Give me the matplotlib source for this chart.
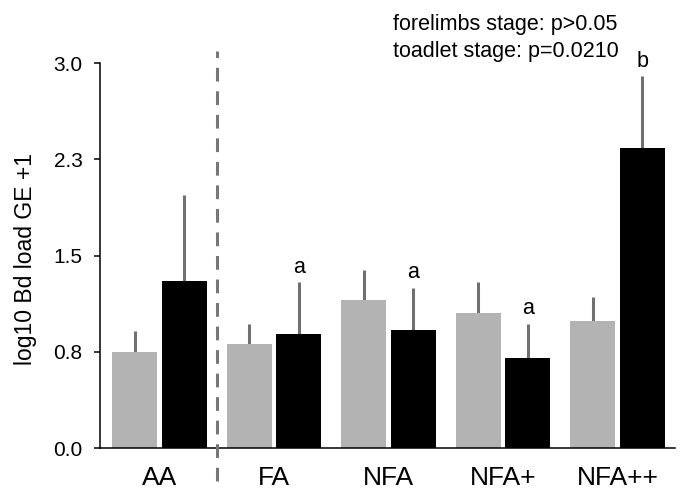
import matplotlib
matplotlib.use('Agg')
import matplotlib.pyplot as plt
import numpy as np

plt.rcParams['font.family'] = ['Liberation Sans', 'DejaVu Sans']

# grupos y valores (log10 Bd load GE +1)
grupos = ['AA', 'FA', 'NFA', 'NFA+', 'NFA++']
forelimbs = [0.75, 0.81, 1.15, 1.05, 0.99]
forelimbs_err = [0.16, 0.16, 0.24, 0.24, 0.19]
toadlet = [1.30, 0.89, 0.92, 0.70, 2.34]
toadlet_err = [0.67, 0.40, 0.33, 0.27, 0.56]
letras = ['', 'a', 'a', 'a', 'b']

yticks = [0.0, 0.75, 1.5, 2.25, 3.0]
yticklabels = ['0.0', '0.8', '1.5', '2.3', '3.0']

gris = '#b3b3b3'
gris_err = '#707070'

fig = plt.figure(figsize=(6.81, 4.90), dpi=100)
ax = fig.add_axes([0.1468, 0.0857, 0.844, 0.7857])

x = np.arange(len(grupos))
w = 0.393
d = 0.218

ax.bar(x - d, forelimbs, w, color=gris, zorder=2)
ax.bar(x + d, toadlet, w, color='black', zorder=2)

# barras de error solo hacia arriba
ax.errorbar(x - d, forelimbs, yerr=[np.zeros(len(x)), forelimbs_err], fmt='none',
            ecolor=gris_err, elinewidth=2.2, capsize=0, zorder=1)
ax.errorbar(x + d, toadlet, yerr=[np.zeros(len(x)), toadlet_err], fmt='none',
            ecolor=gris_err, elinewidth=2.2, capsize=0, zorder=1)

for xi, v, e, l in zip(x + d, toadlet, toadlet_err, letras):
    if l:
        ax.annotate(l, (xi, v + e), xytext=(0, 3), textcoords='offset points',
                    ha='center', va='bottom', fontsize=15.5, annotation_clip=False)

# linea divisoria
ax.plot([0.5, 0.5], [-0.26, 3.09], color='#777777', lw=2.2, ls=(0, (4.5, 3.2)),
        clip_on=False, zorder=3)

ax.set_xlim(-0.52, 4.5)
ax.set_ylim(0, 3.0)
ax.set_yticks(yticks)
ax.set_yticklabels(yticklabels)
ax.set_xticks(x)
ax.set_xticklabels(grupos)
ax.tick_params(axis='y', length=4, width=1.1, pad=8.5, labelsize=15)
ax.tick_params(axis='x', length=0, pad=13, labelsize=19)
ax.set_ylabel('log10 Bd load GE +1', fontsize=16.5)
ax.yaxis.set_label_coords(-0.11, 0.49)

for s in ['top', 'right']:
    ax.spines[s].set_visible(False)
for s in ['left', 'bottom']:
    ax.spines[s].set_linewidth(1.1)

fig.text(0.577, 0.939, 'forelimbs stage: p>0.05', fontsize=15.5, va='baseline')
fig.text(0.577, 0.884, 'toadlet stage: p=0.0210', fontsize=15.5, va='baseline')

fig.savefig('out.png', dpi=100)
